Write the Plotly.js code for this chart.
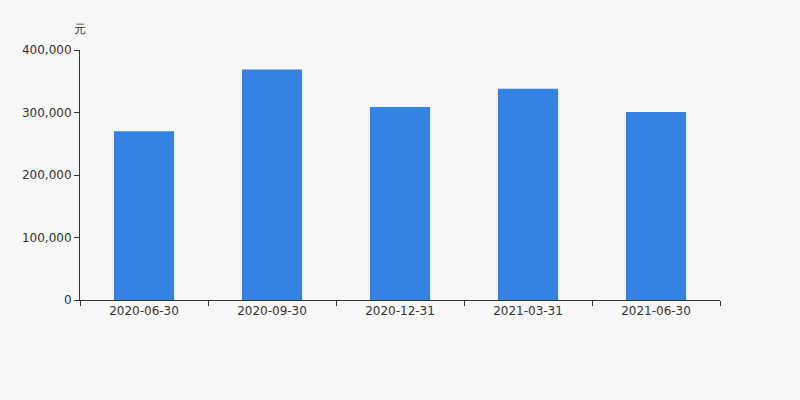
<!DOCTYPE html>
<html><head><meta charset="utf-8">
<script src="https://cdn.plot.ly/plotly-3.0.1.min.js"></script>
<style>html,body{margin:0;padding:0;background:#f7f7f7;}</style>
</head><body>
<div id="chart" style="width:800px;height:400px;"></div>
<script>
const categories = ["2020-06-30","2020-09-30","2020-12-31","2021-03-31","2021-06-30"];
const values = [270000, 369000, 309000, 338000, 301000];
const yTickVals = [0, 100000, 200000, 300000, 400000];
const unitLabel = "元";

const font = {family: "DejaVu Sans, sans-serif", size: 12, color: "#333"};
Plotly.newPlot("chart", [{
  type: "bar", x: categories, y: values, width: 0.47,
  marker: {color: "#3582e2"}, hoverinfo: "x+y"
}], {
  width: 800, height: 400,
  paper_bgcolor: "#f7f7f7", plot_bgcolor: "#f7f7f7",
  margin: {l: 80, r: 80, t: 50, b: 100},
  font: font, showlegend: false,
  xaxis: {type: "category", showline: true, linecolor: "#333", linewidth: 1,
    ticks: "outside", tickson: "boundaries", ticklen: 5, tickcolor: "#333",
    showgrid: false, zeroline: false, tickfont: font},
  yaxis: {range: [0, 400000], tickvals: yTickVals, tickformat: ",d",
    showline: true, linecolor: "#333", linewidth: 1, ticks: "outside", ticklen: 5,
    tickcolor: "#333", showgrid: false, zeroline: false, tickfont: font},
  annotations: [{text: unitLabel, xref: "paper", yref: "paper", x: 0, y: 1,
    xanchor: "center", yanchor: "bottom", yshift: 12, showarrow: false, font: font}]
}, {displayModeBar: false});
</script>
</body></html>
